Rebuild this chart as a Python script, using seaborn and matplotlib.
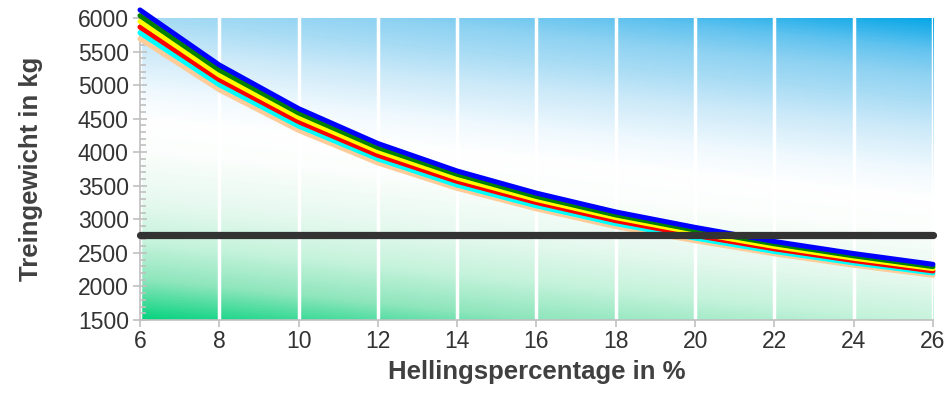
import numpy as np
import pandas as pd
import seaborn as sns
import matplotlib.pyplot as plt
from matplotlib.colors import LinearSegmentedColormap
from matplotlib.ticker import MultipleLocator

# data
slope_pct = [6, 8, 10, 12, 14, 16, 18, 20, 22, 24, 26]
w_blue = [6120, 5300, 4650, 4130, 3720, 3390, 3110, 2880, 2670, 2490, 2330]
w_green = [6035, 5225, 4585, 4070, 3670, 3340, 3065, 2840, 2635, 2455, 2295]
w_yellow = [5950, 5150, 4520, 4015, 3615, 3295, 3025, 2800, 2595, 2420, 2265]
w_red = [5865, 5080, 4455, 3955, 3565, 3250, 2980, 2760, 2560, 2385, 2230]
w_cyan = [5780, 5005, 4390, 3900, 3510, 3200, 2935, 2720, 2520, 2350, 2200]
w_peach = [5690, 4930, 4325, 3840, 3460, 3155, 2890, 2680, 2485, 2315, 2165]
limit_kg = 2760

series = {"peach": w_peach, "cyan": w_cyan, "red": w_red,
          "yellow": w_yellow, "green": w_green, "blue": w_blue}
colors = {"blue": "#0000ff", "green": "#008000", "yellow": "#ffff00",
          "red": "#ff0000", "cyan": "#00ffff", "peach": "#ffcc99"}

df = pd.DataFrame([
    {"pct": p, "kg": v, "line": name}
    for name, vals in series.items() for p, v in zip(slope_pct, vals)
])

sns.set_style("white")
plt.rcParams["font.family"] = ["Liberation Sans", "DejaVu Sans"]

fig, ax = plt.subplots(figsize=(9.47, 4.07), dpi=100)
fig.subplots_adjust(left=0.1478, right=0.9852, top=0.9558, bottom=0.2138)

# background gradient (blue top-right, white middle, green bottom-left)
W, H = 793, 302
u, v = np.meshgrid(np.arange(W), np.arange(H))
d = (80 * u - 793 * (v - 102)) / 797.0
stops = [(-200, "#00d27c"), (-158, "#8fe6bd"), (-120, "#c6f3dc"), (-80, "#e6f9ef"),
         (-30, "#fbfefc"), (0, "#ffffff"), (30, "#f0f9fe"), (70, "#cdeaf9"),
         (101, "#a8dcf5"), (126, "#8ed2f2"), (150, "#62c3ef"), (182, "#05a6e6")]
lo, hi = stops[0][0], stops[-1][0]
cmap = LinearSegmentedColormap.from_list(
    "bg", [((s - lo) / (hi - lo), c) for s, c in stops])
ax.imshow(d, cmap=cmap, vmin=lo, vmax=hi, extent=(6, 26, 1500, 6000),
          origin="upper", aspect="auto", zorder=0, interpolation="bilinear")

ax.grid(axis="x", color="white", linewidth=2.5, zorder=1)
ax.grid(axis="y", visible=False)

sns.lineplot(data=df, x="pct", y="kg", hue="line", palette=colors,
             hue_order=list(series.keys()), linewidth=3.6, legend=False,
             ax=ax, zorder=3, clip_on=False)
ax.plot([slope_pct[0], slope_pct[-1]], [limit_kg, limit_kg], color="#333333",
        linewidth=5.2, solid_capstyle="round", zorder=4, clip_on=False)

ax.set_xlim(6, 26)
ax.set_ylim(1500, 6000)
ax.set_xticks(range(6, 27, 2))
ax.yaxis.set_major_locator(MultipleLocator(500))
ax.yaxis.set_minor_locator(MultipleLocator(100))
ax.set_axisbelow(True)

for side in ["top", "right"]:
    ax.spines[side].set_visible(False)
for side in ["left", "bottom"]:
    ax.spines[side].set_color("#c0c0c0")
    ax.spines[side].set_linewidth(1.2)
    ax.spines[side].set_zorder(2)

ax.tick_params(axis="y", which="major", direction="inout", length=10, width=1.2,
               color="#c0c0c0", labelsize=16.5, labelcolor="#333333", pad=3, left=True)
ax.tick_params(axis="y", which="minor", direction="in", length=4, width=1.2,
               color="#c0c0c0", left=True)
ax.tick_params(axis="x", which="major", direction="out", length=5, width=1.2,
               color="#c0c0c0", labelsize=16.5, labelcolor="#333333", pad=2, bottom=True)

ax.set_xlabel("Hellingspercentage in %", fontsize=18.5, fontweight="bold",
              color="#404040", labelpad=5)
ax.set_ylabel("Treingewicht in kg", fontsize=18.5, fontweight="bold",
              color="#404040", labelpad=25)

fig.savefig("out.png", dpi=100)
